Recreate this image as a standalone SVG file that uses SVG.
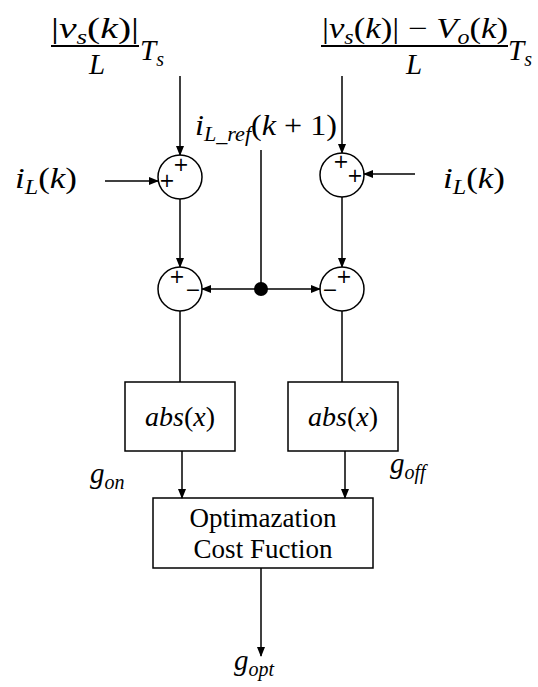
<svg xmlns="http://www.w3.org/2000/svg" width="538" height="687" viewBox="0 0 538 687">
<defs>
<marker id="ah" markerWidth="10" markerHeight="8" refX="9" refY="4" orient="auto" markerUnits="userSpaceOnUse">
<path d="M0,0 L10,4 L0,8 z" fill="#000"/>
</marker>
</defs>
<g id="labels" fill="#000">
<text font-family="Liberation Serif" font-size="29" x="51" y="38" textLength="88" lengthAdjust="spacingAndGlyphs">|<tspan font-style="italic">v</tspan><tspan font-size="20" font-style="italic" dy="6">s</tspan><tspan dy="-6">(</tspan><tspan font-style="italic">k</tspan>)|</text>
<line x1="51" y1="46" x2="139" y2="46" stroke="#000" stroke-width="2"/>
<text font-family="Liberation Serif" font-size="29" font-style="italic" x="89" y="74">L</text>
<text font-family="Liberation Serif" font-size="29" font-style="italic" x="140" y="60">T<tspan font-size="20" dy="6">s</tspan></text>
<text font-family="Liberation Serif" font-size="29" x="322" y="38" textLength="186" lengthAdjust="spacingAndGlyphs">|<tspan font-style="italic">v</tspan><tspan font-size="20" font-style="italic" dy="6">s</tspan><tspan dy="-6">(</tspan><tspan font-style="italic">k</tspan>)| − <tspan font-style="italic">V</tspan><tspan font-size="20" font-style="italic" dy="6">o</tspan><tspan dy="-6">(</tspan><tspan font-style="italic">k</tspan>)</text>
<line x1="321" y1="46" x2="508" y2="46" stroke="#000" stroke-width="2"/>
<text font-family="Liberation Serif" font-size="29" font-style="italic" x="406" y="74">L</text>
<text font-family="Liberation Serif" font-size="29" font-style="italic" x="508" y="60">T<tspan font-size="20" dy="6">s</tspan></text>
<text font-family="Liberation Serif" font-size="29" x="15" y="188" textLength="62" lengthAdjust="spacingAndGlyphs"><tspan font-style="italic">i</tspan><tspan font-size="20" font-style="italic" dy="6">L</tspan><tspan dy="-6">(</tspan><tspan font-style="italic">k</tspan>)</text>
<text font-family="Liberation Serif" font-size="29" x="443" y="188" textLength="62" lengthAdjust="spacingAndGlyphs"><tspan font-style="italic">i</tspan><tspan font-size="20" font-style="italic" dy="6">L</tspan><tspan dy="-6">(</tspan><tspan font-style="italic">k</tspan>)</text>
<text font-family="Liberation Serif" font-size="29" x="195" y="135" textLength="142" lengthAdjust="spacingAndGlyphs"><tspan font-style="italic">i</tspan><tspan font-size="20" font-style="italic" dy="6">L_ref</tspan><tspan dy="-6">(</tspan><tspan font-style="italic">k</tspan> + 1)</text>
<text font-family="Liberation Serif" font-size="29" font-style="italic" x="90" y="483">g<tspan font-size="20" dy="6">on</tspan></text>
<text font-family="Liberation Serif" font-size="29" font-style="italic" x="390" y="473">g<tspan font-size="20" dy="6">off</tspan></text>
<text font-family="Liberation Serif" font-size="29" font-style="italic" x="234" y="670">g<tspan font-size="20" dy="6">opt</tspan></text>
</g>
<g id="sum1">
<circle cx="180" cy="177" r="22" fill="#fff" stroke="#000" stroke-width="1.5"/>
<text font-family="DejaVu Sans" font-size="19" x="181" y="171" text-anchor="middle">+</text>
<text font-family="DejaVu Sans" font-size="19" x="167" y="187" text-anchor="middle">+</text>
</g>
<g id="sum2">
<circle cx="342" cy="175" r="22" fill="#fff" stroke="#000" stroke-width="1.5"/>
<text font-family="DejaVu Sans" font-size="19" x="341" y="168" text-anchor="middle">+</text>
<text font-family="DejaVu Sans" font-size="19" x="355" y="182" text-anchor="middle">+</text>
</g>
<g id="sum3">
<circle cx="180" cy="289" r="22" fill="#fff" stroke="#000" stroke-width="1.5"/>
<text font-family="DejaVu Sans" font-size="19" x="177" y="283" text-anchor="middle">+</text>
<text font-family="DejaVu Sans" font-size="19" x="193" y="296" text-anchor="middle">−</text>
</g>
<g id="sum4">
<circle cx="342" cy="289" r="22" fill="#fff" stroke="#000" stroke-width="1.5"/>
<text font-family="DejaVu Sans" font-size="19" x="344" y="283" text-anchor="middle">+</text>
<text font-family="DejaVu Sans" font-size="19" x="330" y="296" text-anchor="middle">−</text>
</g>
<g id="abs1">
<rect x="125" y="382" width="110" height="69" fill="#fff" stroke="#000" stroke-width="1.5"/>
<text font-family="Liberation Serif" font-size="28" x="180" y="426" text-anchor="middle"><tspan font-style="italic">abs</tspan>(<tspan font-style="italic">x</tspan>)</text>
</g>
<g id="abs2">
<rect x="288" y="382" width="110" height="69" fill="#fff" stroke="#000" stroke-width="1.5"/>
<text font-family="Liberation Serif" font-size="28" x="343" y="426" text-anchor="middle"><tspan font-style="italic">abs</tspan>(<tspan font-style="italic">x</tspan>)</text>
</g>
<g id="cost">
<rect x="153" y="498" width="220" height="70" fill="#fff" stroke="#000" stroke-width="1.5"/>
<text font-family="Liberation Serif" font-size="27" x="263" y="527" text-anchor="middle">Optimazation</text>
<text font-family="Liberation Serif" font-size="27" x="263" y="558" text-anchor="middle">Cost Fuction</text>
</g>
<g id="junction">
<circle cx="261" cy="289" r="7" fill="#000"/>
</g>
<g id="connectors" stroke="#000" stroke-width="1.5" fill="none">
<line x1="180" y1="76" x2="180" y2="155" marker-end="url(#ah)"/>
<line x1="105" y1="181" x2="158" y2="181" marker-end="url(#ah)"/>
<line x1="342" y1="76" x2="342" y2="153" marker-end="url(#ah)"/>
<line x1="415" y1="174" x2="364" y2="174" marker-end="url(#ah)"/>
<line x1="261" y1="150" x2="261" y2="289"/>
<line x1="180" y1="199" x2="180" y2="267" marker-end="url(#ah)"/>
<line x1="342" y1="197" x2="342" y2="267" marker-end="url(#ah)"/>
<line x1="261" y1="289" x2="202" y2="289" marker-end="url(#ah)"/>
<line x1="261" y1="289" x2="320" y2="289" marker-end="url(#ah)"/>
<line x1="180" y1="311" x2="180" y2="382"/>
<line x1="342" y1="311" x2="342" y2="382"/>
<line x1="182" y1="451" x2="182" y2="498" marker-end="url(#ah)"/>
<line x1="345" y1="451" x2="345" y2="498" marker-end="url(#ah)"/>
<line x1="261" y1="568" x2="261" y2="656" marker-end="url(#ah)"/>
</g>
</svg>
